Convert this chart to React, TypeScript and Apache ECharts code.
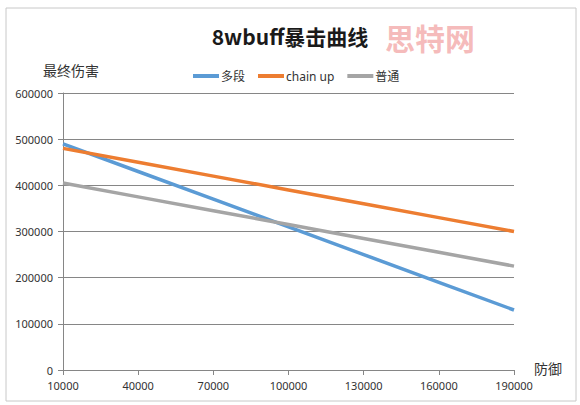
import { useEffect, useRef } from 'react';
import * as echarts from 'echarts';

const defenceLabels = ['10000', '40000', '70000', '100000', '130000', '160000', '190000'];
const multiHit = [490000, 430000, 370000, 310000, 250000, 190000, 130000];
const chainUp = [480000, 450000, 420000, 390000, 360000, 330000, 300000];
const normal = [405000, 375000, 345000, 315000, 285000, 255000, 225000];

const seriesNames = ['多段', 'chain up', '普通'];
const seriesColors = ['#5B9BD5', '#ED7D31', '#A5A5A5'];

const FONT = '"Noto Sans", "Noto Sans CJK SC", sans-serif';
const CJK = '"Noto Sans CJK SC", sans-serif';

export default function App() {
  const chartRef = useRef<HTMLDivElement>(null);

  useEffect(() => {
    if (!chartRef.current) return;
    const chart = echarts.init(chartRef.current, undefined, { renderer: 'svg' });

    const values = [multiHit, chainUp, normal];

    chart.setOption({
      animation: false,
      backgroundColor: '#ffffff',
      title: {
        text: '8wbuff暴击曲线',
        left: 'center',
        top: 20,
        textStyle: { fontFamily: CJK, fontSize: 21, fontWeight: 'bold', color: '#1a1a1a' },
      },
      graphic: [
        {
          type: 'rect',
          shape: { x: 6, y: 8, width: 570, height: 393 },
          style: { fill: 'none', stroke: '#c8c8c8', lineWidth: 1 },
          silent: true,
        },
        {
          type: 'text',
          left: 385,
          top: 22,
          style: {
            text: '思特网',
            font: `bold 30px ${CJK}`,
            fill: 'rgba(235, 120, 120, 0.5)',
          },
          silent: true,
        },
        {
          type: 'text',
          left: 43,
          top: 63,
          style: { text: '最终伤害', font: `14px ${CJK}`, fill: '#333333' },
        },
        {
          type: 'text',
          left: 534,
          top: 361,
          style: { text: '防御', font: `14px ${CJK}`, fill: '#333333' },
        },
      ],
      legend: {
        top: 65,
        left: 188,
        itemWidth: 26,
        itemHeight: 4,
        itemGap: 13,
        icon: 'rect',
        textStyle: { fontFamily: FONT, fontSize: 12, color: '#333333', padding: [0, 0, 0, -3] },
        data: seriesNames,
      },
      grid: { left: 63, right: 66, top: 93, bottom: 35, containLabel: false },
      xAxis: {
        type: 'category',
        data: defenceLabels,
        boundaryGap: false,
        axisLine: { lineStyle: { color: '#868686', width: 1 } },
        axisTick: { show: true, alignWithLabel: true, length: 5, lineStyle: { color: '#868686' } },
        axisLabel: { fontFamily: FONT, fontSize: 11, color: '#333333', margin: 10 },
        splitLine: { show: false },
      },
      yAxis: {
        type: 'value',
        min: 0,
        max: 600000,
        interval: 100000,
        axisLine: { show: true, lineStyle: { color: '#868686', width: 1 } },
        axisTick: { show: true, length: 5, lineStyle: { color: '#868686' } },
        axisLabel: {
          fontFamily: FONT,
          fontSize: 11,
          color: '#333333',
          margin: 10,
          formatter: (v: number) => String(v),
        },
        splitLine: { lineStyle: { color: '#868686', width: 1 } },
      },
      series: seriesNames.map((name, i) => ({
        name,
        type: 'line',
        data: values[i],
        symbol: 'none',
        lineStyle: { width: 3.5, color: seriesColors[i] },
        itemStyle: { color: seriesColors[i] },
      })),
    });

    return () => chart.dispose();
  }, []);

  return (
    <div
      ref={chartRef}
      style={{ position: 'absolute', left: 0, top: 0, width: 580, height: 405 }}
    />
  );
}
